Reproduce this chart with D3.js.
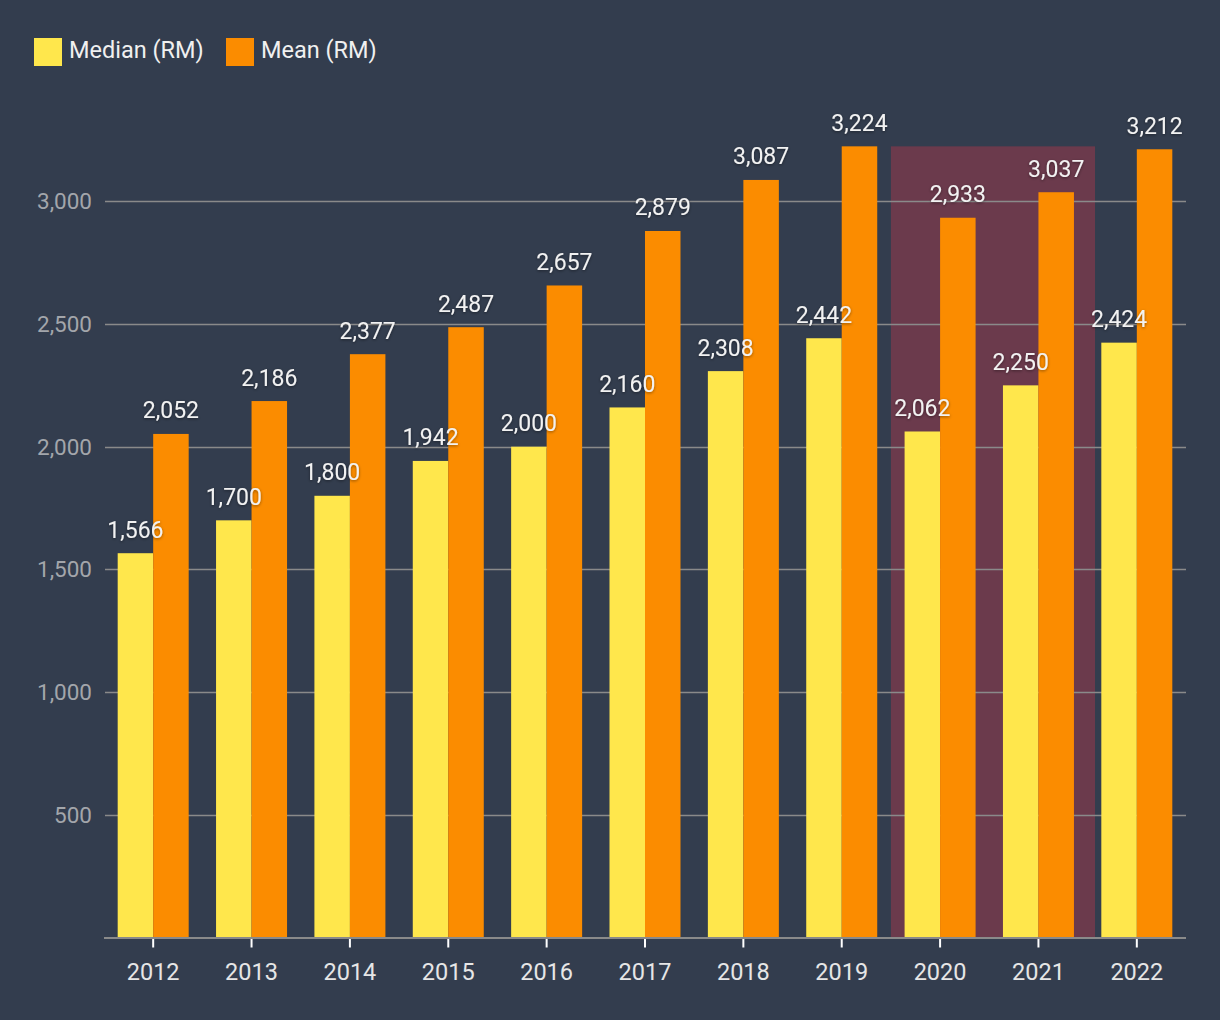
<!DOCTYPE html>
<html><head><meta charset="utf-8">
<script src="https://cdn.jsdelivr.net/npm/d3@7"></script>
<style>
html,body{margin:0;padding:0;background:#333d4e;}
svg{display:block;font-family:Roboto,"Noto Sans",sans-serif;}
.val{fill:#f2f2f2;font-size:23px;text-anchor:middle;filter:url(#sh);}
</style></head>
<body>
<svg id="c" width="1220" height="1020"></svg>
<script>
const years = ["2012","2013","2014","2015","2016","2017","2018","2019","2020","2021","2022"];
const median = [1566,1700,1800,1942,2000,2160,2308,2442,2062,2250,2424];
const mean = [2052,2186,2377,2487,2657,2879,3087,3224,2933,3037,3212];
const seriesNames = ["Median (RM)","Mean (RM)"];
const colors = ["#ffe74c","#fb8c00"];
const yTicks = [500,1000,1500,2000,2500,3000];
const highlightYears = ["2020","2021"];

(function(){
const svg = d3.select("#c");
const W=1220,H=1020;
svg.append("rect").attr("width",W).attr("height",H).attr("fill","#333d4e");
const defs = svg.append("defs");
const f = defs.append("filter").attr("id","sh").attr("x","-20%").attr("y","-30%").attr("width","140%").attr("height","160%");
f.append("feDropShadow").attr("dx",0).attr("dy",1).attr("stdDeviation",1.5).attr("flood-color","#000").attr("flood-opacity",0.45);

const pl=104,pr=1186,pb=937.5;
const x = d3.scaleBand().domain(years).range([pl,pr]).paddingInner(0).paddingOuter(0);
const y = d3.scaleLinear().domain([0,3000]).range([pb,pb-3*245.4]);
const bw = x.bandwidth();
const barW = 35.5;
const x1 = d3.scaleBand().domain([0,1]).range([bw/2-barW, bw/2+barW]);

// highlight
const hx0 = x(highlightYears[0]);
const hx1 = x(highlightYears[1])+bw*1.075;
svg.append("rect").attr("x",hx0).attr("y",y(d3.max(mean))).attr("width",hx1-hx0).attr("height",pb-y(d3.max(mean))).attr("fill","#6b3a4c");

// grid
const g = svg.append("g");
g.selectAll("line.grid").data(yTicks).join("line")
 .attr("x1",pl+1).attr("x2",pr).attr("y1",d=>Math.round(y(d))+0.5).attr("y2",d=>Math.round(y(d))+0.5)
 .attr("stroke","#8a8a8a").attr("stroke-width",1.5);
g.selectAll("text.yl").data(yTicks).join("text")
 .attr("x",92).attr("y",d=>y(d)).attr("dy","0.35em").attr("text-anchor","end")
 .attr("fill","#a3a6ab").attr("font-size","22.5px").text(d=>d3.format(",")(d));

// bars
const data = years.map((yr,i)=>({yr,vals:[median[i],mean[i]]}));
const grp = svg.selectAll("g.yr").data(data).join("g").attr("class","yr").attr("transform",d=>`translate(${x(d.yr)},0)`);
grp.selectAll("rect").data(d=>d.vals.map((v,k)=>({v,k}))).join("rect")
 .attr("x",d=>x1(d.k)).attr("width",x1.bandwidth()).attr("y",d=>y(d.v)).attr("height",d=>pb-y(d.v))
 .attr("fill",d=>colors[d.k]);

// axis
svg.append("line").attr("x1",pl).attr("x2",pr).attr("y1",pb+0.5).attr("y2",pb+0.5).attr("stroke","#8a8a8a").attr("stroke-width",2);
svg.selectAll("line.tk").data(years).join("line").attr("class","tk")
 .attr("x1",d=>x(d)+bw/2).attr("x2",d=>x(d)+bw/2).attr("y1",pb+1.5).attr("y2",pb+10)
 .attr("stroke","#ffffff").attr("stroke-width",2);
svg.selectAll("text.xl").data(years).join("text").attr("class","xl")
 .attr("x",d=>x(d)+bw/2).attr("y",980).attr("text-anchor","middle")
 .attr("fill","#e6e6e6").attr("font-size","23.5px").text(d=>d);

// value labels
grp.selectAll("text").data(d=>d.vals.map((v,k)=>({v,k}))).join("text")
 .attr("class","val").attr("x",d=>x1(d.k)+x1.bandwidth()/2).attr("y",d=>y(d.v)-15.5)
 .text(d=>d3.format(",")(d.v));

// legend
const leg = svg.append("g");
const lx=[34,226];
seriesNames.forEach((n,i)=>{
  leg.append("rect").attr("x",lx[i]).attr("y",38).attr("width",28).attr("height",28).attr("fill",colors[i]);
  leg.append("text").attr("x",lx[i]+35).attr("y",50).attr("dy","0.35em").attr("fill","#f0f0f0").attr("font-size","23.5px").text(n);
});
})();
</script>
</body></html>
